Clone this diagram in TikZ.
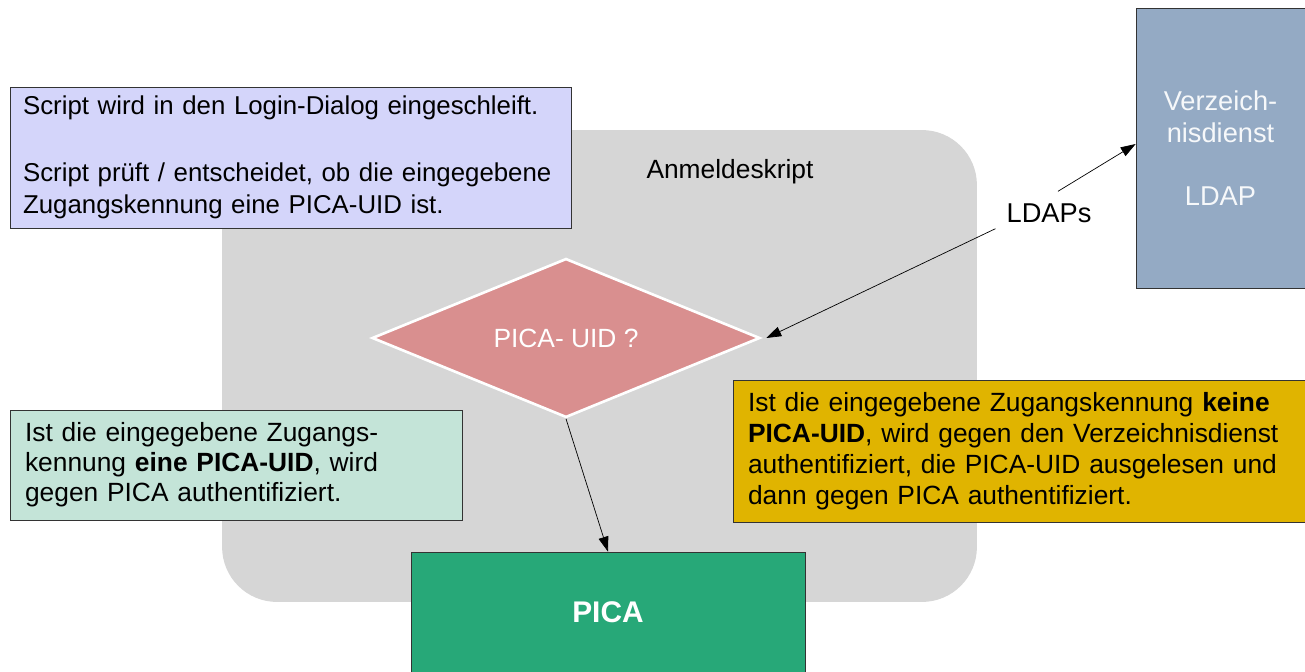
\documentclass[tikz,border=0pt]{standalone}
\usepackage{fontspec}
\setmainfont{Liberation Sans}
\usetikzlibrary{shapes.geometric,arrows.meta,positioning}
\definecolor{skriptgrau}{RGB}{214,214,214}
\definecolor{hinweisblau}{RGB}{212,213,250}
\definecolor{hinweisgruen}{RGB}{196,228,216}
\definecolor{hinweisgelb}{RGB}{224,180,0}
\definecolor{rautenrot}{RGB}{217,143,143}
\definecolor{picagruen}{RGB}{39,168,120}
\definecolor{ldapblau}{RGB}{148,170,196}
\tikzset{
    hinweis/.style={draw=black!80, thin, align=left, inner xsep=0.3cm, inner ysep=0pt,
        font=\fontsize{15}{17.6}\selectfont},
    pfeil/.style={-{Triangle[length=3mm,width=2mm]}, black, thin},
}

\begin{document}
\begin{tikzpicture}[x=0.02cm,y=-0.02cm]
            \useasboundingbox (0,0) rectangle (1305,672);
            % Anmeldeskript (Hintergrund)
            \node[fill=skriptgrau, rounded corners=1.1cm, minimum width=15.1cm, minimum height=9.44cm, inner sep=0pt] (skript) at (599.5,366) {};
            \node[font=\fontsize{15}{18}\selectfont] (skripttitel) at (730,172) {Anmeldeskript};

            \node[hinweis, fill=hinweisblau, inner xsep=0.26cm, text width=10.7cm, minimum height=2.82cm, font=\fontsize{14.7}{18}\selectfont] (login) at (290.5,157.5)
                {Script wird in den Login-Dialog eingeschleift.\\[20pt]Script prüft / entscheidet, ob die eingegebene\\Zugangskennung eine PICA-UID ist.};

            \node[diamond, fill=rautenrot, draw=white, line width=1.5pt, aspect=2.44, minimum width=7.76cm, minimum height=3.18cm, inner sep=0pt,
                text=white, font=\fontsize{15}{18}\selectfont] (uid) at (566,338) {PICA- UID ?};

            \node[hinweis, fill=hinweisgruen, text width=8.44cm, minimum height=2.2cm, font=\fontsize{15}{17}\selectfont] (jaUID) at (236,465)
                {Ist die eingegebene Zugangs-\\kennung \textbf{eine PICA-UID}, wird\\gegen PICA authentifiziert.};
            \node[hinweis, fill=hinweisgelb, text width=10.84cm, minimum height=2.84cm] (neinUID) at (1019,451)
                {Ist die eingegebene Zugangskennung \textbf{keine}\\\textbf{PICA-UID}, wird gegen den Verzeichnisdienst\\authentifiziert, die PICA-UID ausgelesen und\\dann gegen PICA authentifiziert.};

            \node[fill=picagruen, draw=black!80, thin, minimum width=7.88cm, minimum height=2.4cm, text=white,
                font=\fontsize{17}{20}\selectfont\bfseries] (pica) at (608,612) {PICA};

            \node[fill=ldapblau, draw=black!80, thin, minimum width=3.38cm, minimum height=5.6cm, align=center,
                text=white!92!ldapblau, font=\fontsize{15.5}{18}\selectfont] (ldap) at (1220.5,148) {Verzeich-\\nisdienst\\[18pt]LDAP};

            \node[font=\fontsize{15.5}{18}\selectfont] (ldaps) at (1049,213) {LDAPs};

            % Verbindungen
            \draw[pfeil] ([xshift=0.18cm,yshift=0.12cm]ldaps.north) -- ([yshift=0.08cm]ldap.west);
            \draw[pfeil] ([xshift=-0.1cm,yshift=0cm]ldaps.south west) -- ([xshift=0.1cm]uid.east);
            \draw[pfeil] (uid.south) -- (pica.north);

        \end{tikzpicture}
\end{document}
